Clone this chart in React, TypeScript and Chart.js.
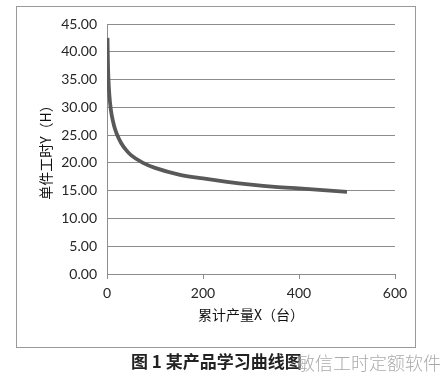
import React, { useEffect, useRef } from "react";
import { Chart, registerables } from "chart.js";

Chart.register(...registerables);

// cumulative output X (units)
const outputX = [1, 2, 3, 5, 8, 10, 15, 20, 30, 40, 50, 75, 100, 150, 200, 250, 300, 350, 400, 450, 500];
// unit hours Y (H)
const hoursY = [42.5, 37.7, 35.1, 32.1, 29.6, 28.5, 26.6, 25.3, 23.5, 22.3, 21.4, 20.0, 19.1, 17.9, 17.2, 16.6, 16.1, 15.7, 15.4, 15.1, 14.8];

const xTitle = "累计产量X（台）";
const yTitle = "单件工时Y（H）";
const caption = "图 1 某产品学习曲线图";
const watermark = "敏信工时定额软件";

export default function App() {
  const canvasRef = useRef<HTMLCanvasElement | null>(null);

  useEffect(() => {
    document.body.style.margin = "0";
    const ctx = canvasRef.current;
    if (!ctx) return;
    const chart = new Chart(ctx, {
      type: "line",
      data: {
        datasets: [
          {
            data: outputX.map((x, i) => ({ x, y: hoursY[i] })),
            borderColor: "#595959",
            borderWidth: 3.8,
            pointRadius: 0,
            cubicInterpolationMode: "monotone",
            fill: false,
          },
        ],
      },
      options: {
        animation: false,
        responsive: false,
        maintainAspectRatio: false,
        layout: { padding: { left: 33, right: 49, top: 24, bottom: 52 } },
        plugins: { legend: { display: false }, tooltip: { enabled: false } },
        scales: {
          x: {
            type: "linear",
            min: 0,
            max: 600,
            ticks: {
              stepSize: 200,
              padding: 6,
              color: "#262626",
              font: { family: "Lato", size: 14 },
            },
            grid: { drawOnChartArea: false, drawTicks: true, tickLength: 5, color: "#8c8c8c" },
            border: { display: true, color: "#8c8c8c", width: 1 },
            title: {
              display: true,
              text: xTitle,
              color: "#111",
              font: { family: "'Noto Sans CJK SC'", size: 14 },
              padding: { top: 4, bottom: 4 },
            },
            afterFit: (scale: any) => {
              scale.height = 53;
            },
          },
          y: {
            min: 0,
            max: 45,
            ticks: {
              stepSize: 5,
              padding: 10,
              color: "#262626",
              font: { family: "Lato", size: 14 },
              callback: (v: any) => Number(v).toFixed(2),
            },
            grid: { drawTicks: false, color: "#8c8c8c", lineWidth: 1 },
            border: { display: true, color: "#8c8c8c", width: 1 },
            title: {
              display: true,
              text: yTitle,
              color: "#111",
              font: { family: "'Noto Sans CJK SC'", size: 14 },
              padding: { top: 4, bottom: 4 },
            },
            afterFit: (scale: any) => {
              scale.width = 74;
            },
          },
        },
      },
    });
    return () => chart.destroy();
  }, []);

  return (
    <div style={{ position: "relative", width: 444, height: 379, background: "#fff", overflow: "hidden" }}>
      <div
        style={{
          position: "absolute",
          left: 16,
          top: 6,
          width: 398,
          height: 340,
          border: "1px solid #999",
          boxSizing: "content-box",
        }}
      />
      <canvas ref={canvasRef} width={444} height={379} style={{ position: "absolute", left: 0, top: 0 }} />
      <div
        style={{
          position: "absolute",
          left: 131,
          top: 351,
          fontFamily: "'Noto Sans CJK SC'",
          fontWeight: 700,
          fontSize: 17,
          color: "#222",
          whiteSpace: "nowrap",
          lineHeight: "20px",
        }}
      >
        {caption}
      </div>
      <div
        style={{
          position: "absolute",
          left: 297,
          top: 351,
          fontFamily: "'Noto Sans CJK SC'",
          fontWeight: 300,
          fontSize: 18,
          color: "#aaa",
          whiteSpace: "nowrap",
          lineHeight: "22px",
        }}
      >
        {watermark}
      </div>
    </div>
  );
}
